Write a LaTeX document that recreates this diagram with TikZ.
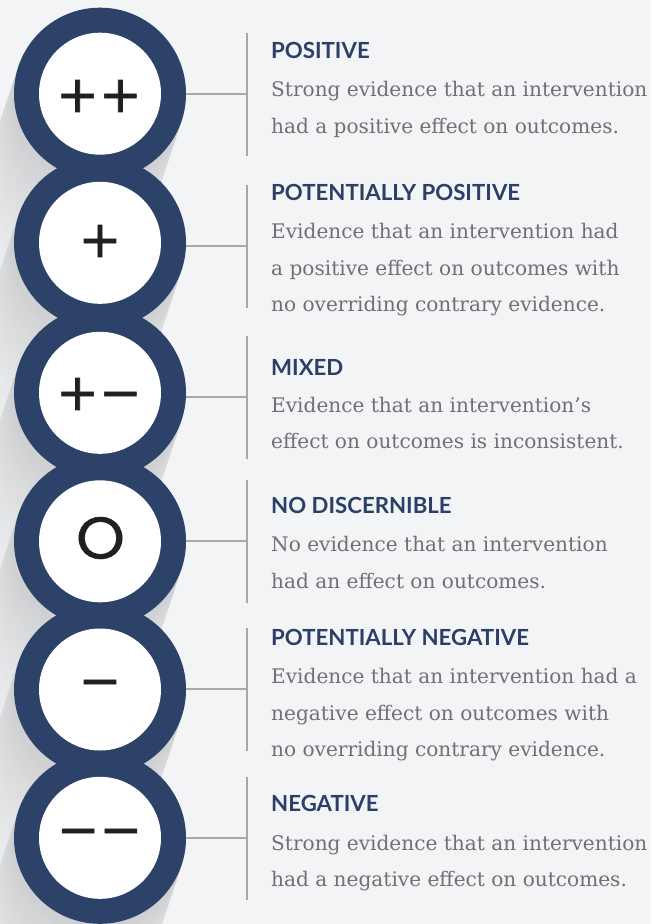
\documentclass[tikz,border=0pt]{standalone}
\usepackage{fontspec}
\newfontfamily\titlefont{Lato}
\newfontfamily\bodyfont{DejaVu Serif}
\newfontfamily\symfont{DejaVu Sans}[FakeBold=1.2]
\newfontfamily\ringfont{Poppins}[FakeBold=0.9, FakeStretch=1.05]
\definecolor{bgc}{HTML}{F3F4F6}
\definecolor{navy}{HTML}{2C4269}
\definecolor{titlec}{HTML}{2B3F67}
\definecolor{bodyc}{HTML}{6F7073}
\definecolor{linec}{HTML}{A6A7A9}
\definecolor{symc}{HTML}{231F20}
\definecolor{shadowc}{HTML}{CDCED0}
\tikzset{
  ring/.style={circle, fill=navy, minimum size=172pt, inner sep=0pt},
  hole/.style={circle, fill=white, minimum size=122pt, inner sep=0pt},
  sym/.style={inner sep=0pt, text=symc, font=\symfont\fontsize{51}{51}\selectfont},
  ttl/.style={anchor=base west, inner sep=0pt, text=titlec, font=\titlefont\bfseries\fontsize{22.2}{22.2}\selectfont},
  bdy/.style={anchor=base west, inner sep=0pt, text=bodyc, font=\bodyfont\fontsize{20.1}{20.1}\selectfont},
  conn/.style={draw=linec, line width=1.1pt}
}
\begin{document}
\begin{tikzpicture}[x=1pt,y=-1pt]
\fill[bgc] (0,0) rectangle (651,924);
\useasboundingbox (0,0) rectangle (651,924);
% long shadows
\begin{scope}
\clip (0,0) rectangle (651,924);
\foreach \k in {55,54,...,0}{
  \pgfmathtruncatemacro\p{100*(1-\k/55)^2}
  \colorlet{shk}{shadowc!\p!bgc}
  \foreach \cy in {93.7,242.8,392.8,541.3,689.5,837.8}{
    \fill[shk] ({100-0.316*4*\k},{\cy+0.949*4*\k}) circle (86);
  }
}
\end{scope}
% connectors and circles
\foreach \i/\cy/\ly in {1/93.7/94,2/242.8/246,3/392.8/397,4/541.3/541,5/689.5/689,6/837.8/838}{
  \node[ring] (c\i) at (100,\cy) {};
  \node[hole] (w\i) at (100,\cy) {};
  \coordinate (v\i) at (247,\ly);
  \coordinate (vt\i) at (247,\ly-61.5);
  \coordinate (vb\i) at (247,\ly+61.5);
  \draw[conn] (c\i.east |- v\i) -- (v\i);
  \draw[conn] (vt\i) -- (vb\i);
}
% symbols
\node[sym] (g1) at (99,96) {++};
\node[sym] (g2) at (100,241) {+};
\node[sym] (g3) at (99,394) {+−};
\node[sym, font=\ringfont\fontsize{59}{59}\selectfont] (g4) at (100.5,538) {O};
\node[sym] (g5) at (100,689) {−};
\node[sym] (g6) at (99.5,838) {−−};
% texts
\node[ttl] (t1) at (271,58.3) {POSITIVE};
\node[bdy] (b1a) at (271,96.7) {Strong evidence that an intervention};
\node[bdy] (b1b) at (271,133) {had a positive effect on outcomes.};
\node[ttl] (t2) at (271,200) {POTENTIALLY POSITIVE};
\node[bdy] (b2a) at (271,238.3) {Evidence that an intervention had};
\node[bdy] (b2b) at (271,275) {a positive effect on outcomes with};
\node[bdy] (b2c) at (271,311.7) {no overriding contrary evidence.};
\node[ttl] (t3) at (271,375) {MIXED};
\node[bdy] (b3a) at (271,412) {Evidence that an intervention’s};
\node[bdy] (b3b) at (271,448.3) {effect on outcomes is inconsistent.};
\node[ttl] (t4) at (271,513.3) {NO DISCERNIBLE};
\node[bdy] (b4a) at (271,551.7) {No evidence that an intervention};
\node[bdy] (b4b) at (271,588.3) {had an effect on outcomes.};
\node[ttl] (t5) at (271,645) {POTENTIALLY NEGATIVE};
\node[bdy] (b5a) at (271,683.3) {Evidence that an intervention had a};
\node[bdy] (b5b) at (271,720) {negative effect on outcomes with};
\node[bdy] (b5c) at (271,756.7) {no overriding contrary evidence.};
\node[ttl] (t6) at (271,811.7) {NEGATIVE};
\node[bdy] (b6a) at (271,850) {Strong evidence that an intervention};
\node[bdy] (b6b) at (271,886.7) {had a negative effect on outcomes.};
\end{tikzpicture}
\end{document}
